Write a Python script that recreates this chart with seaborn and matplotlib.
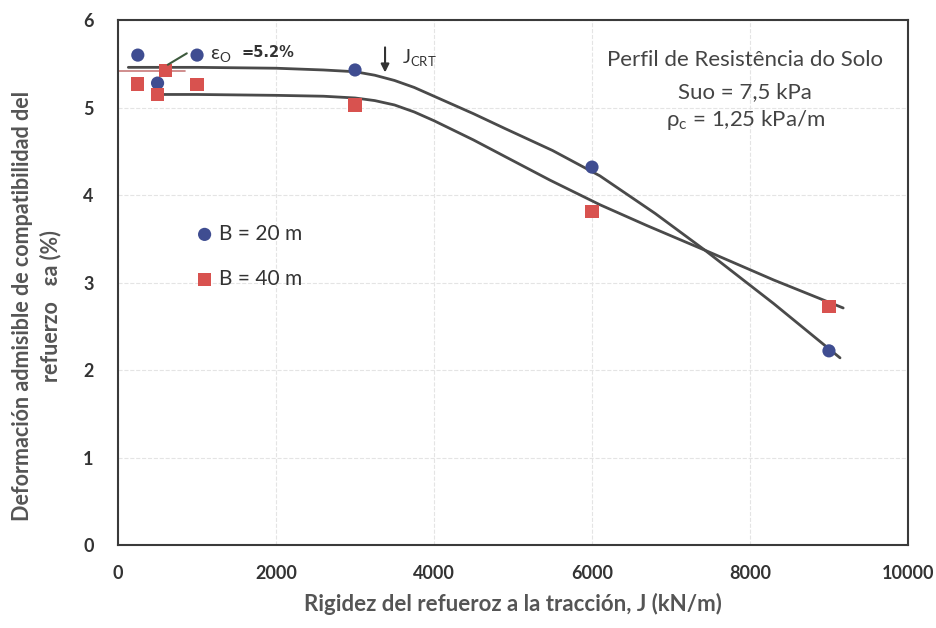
import numpy as np
import pandas as pd
import matplotlib
matplotlib.use("Agg")
import matplotlib.pyplot as plt
import seaborn as sns

j_b20 = [250, 500, 1000, 3000, 6000, 9000]
ea_b20 = [5.60, 5.28, 5.60, 5.43, 4.32, 2.22]
j_b40 = [250, 500, 600, 1000, 3000, 6000, 9000]
ea_b40 = [5.27, 5.15, 5.42, 5.26, 5.03, 3.81, 2.73]

# hand-drawn trend curves
curve_up_x = [130, 1000, 2000, 2600, 3000, 3250, 3500, 3750, 4000, 4250, 4500, 4900, 5500, 6100, 6800, 7430, 8300, 9140]
curve_up_y = [5.46, 5.46, 5.45, 5.43, 5.41, 5.37, 5.31, 5.23, 5.13, 5.03, 4.93, 4.76, 4.51, 4.22, 3.79, 3.37, 2.76, 2.14]
curve_lo_x = [500, 1000, 2000, 2600, 3000, 3250, 3500, 3750, 4000, 4250, 4500, 4900, 5470, 6100, 6700, 7430, 8300, 9180]
curve_lo_y = [5.15, 5.15, 5.14, 5.13, 5.11, 5.08, 5.03, 4.95, 4.85, 4.74, 4.63, 4.44, 4.17, 3.89, 3.65, 3.37, 3.03, 2.71]

eps_line_x = [0, 850]
eps_line_y = [5.42, 5.42]

sns.set_theme(style="white")
plt.rcParams['font.family'] = ['Lato', 'DejaVu Sans']

fig = plt.figure(figsize=(9.37, 6.28), dpi=100)
ax = fig.add_axes([0.126, 0.132, 0.843, 0.836])

blue = '#3f4d91'
red = '#d8524f'
line_c = '#4a4a4a'

ax.plot(eps_line_x, eps_line_y, color='#c87a7a', lw=1.2, zorder=2)
sns.lineplot(x=curve_up_x, y=curve_up_y, ax=ax, color=line_c, lw=2, sort=False, zorder=3)
sns.lineplot(x=curve_lo_x, y=curve_lo_y, ax=ax, color=line_c, lw=2, sort=False, zorder=3)

df20 = pd.DataFrame({'J': j_b20, 'ea': ea_b20})
df40 = pd.DataFrame({'J': j_b40, 'ea': ea_b40})
sns.scatterplot(data=df20, x='J', y='ea', ax=ax, color=blue, marker='o', s=90,
                edgecolor='none', label='B = 20 m', zorder=4)
sns.scatterplot(data=df40, x='J', y='ea', ax=ax, color=red, marker='s', s=90,
                edgecolor='none', label='B = 40 m', zorder=4)

ax.set_xlim(0, 10000)
ax.set_ylim(0, 6)
ax.set_xticks(np.arange(0, 10001, 2000))
ax.set_yticks(np.arange(0, 7, 1))
ax.grid(True, color='#e4e4e4', linestyle='--', lw=0.8)
for s in ax.spines.values():
    s.set_color('#3a3a3a')
    s.set_linewidth(1.5)
ax.tick_params(axis='both', direction='inout', length=7, width=1, color='#555555',
               labelsize=13, labelcolor='#333333')
ax.tick_params(axis='x', pad=11)
ax.tick_params(axis='y', pad=14)
for lab in ax.get_xticklabels() + ax.get_yticklabels():
    lab.set_fontweight('bold')

ax.set_xlabel('Rigidez del refueroz a la tracción, J (kN/m)', fontsize=16,
              fontweight='bold', color='#555555')
ax.xaxis.set_label_coords(0.5, -0.092)
ax.set_ylabel('Deformación admisible de compatibilidad del\nrefuerzo   εa (%)', fontsize=15.5,
              fontweight='bold', color='#555555', linespacing=1.35)
ax.yaxis.set_label_coords(-0.072, 0.455)

# annotations
ax.annotate('', xy=(3380, 5.37), xytext=(3380, 5.72),
            arrowprops=dict(arrowstyle='-|>', color='#333333', lw=1.5, mutation_scale=12))
ax.text(3600, 5.5, r'J$_\mathregular{CRT}$', fontsize=13.5, color='#333333')
ax.plot([630, 870], [5.49, 5.62], color='#3d5a3d', lw=1.5, zorder=5)
ax.text(1160, 5.55, r'ε$_\mathregular{O}$', fontsize=14, color='#333333')
ax.text(1560, 5.58, '=5.2%', fontsize=10.5, color='#333333', fontweight='bold',
        family=['DejaVu Sans'])

ax.text(7940, 5.54, 'Perfil de Resistência do Solo', fontsize=16, color='#444444',
        ha='center', va='center')
ax.text(7940, 5.18, 'Suo = 7,5 kPa', fontsize=16, color='#444444', ha='center', va='center')
ax.text(7940, 4.86, r'ρ$_\mathregular{c}$ = 1,25 kPa/m', fontsize=16, color='#444444',
        ha='center', va='center')

ax.legend(loc='center left', bbox_to_anchor=(0.07, 0.55), frameon=False, fontsize=15,
          labelspacing=1.2, handletextpad=0.1, handlelength=1.2, labelcolor='#333333')

fig.savefig('out.png', dpi=100)
